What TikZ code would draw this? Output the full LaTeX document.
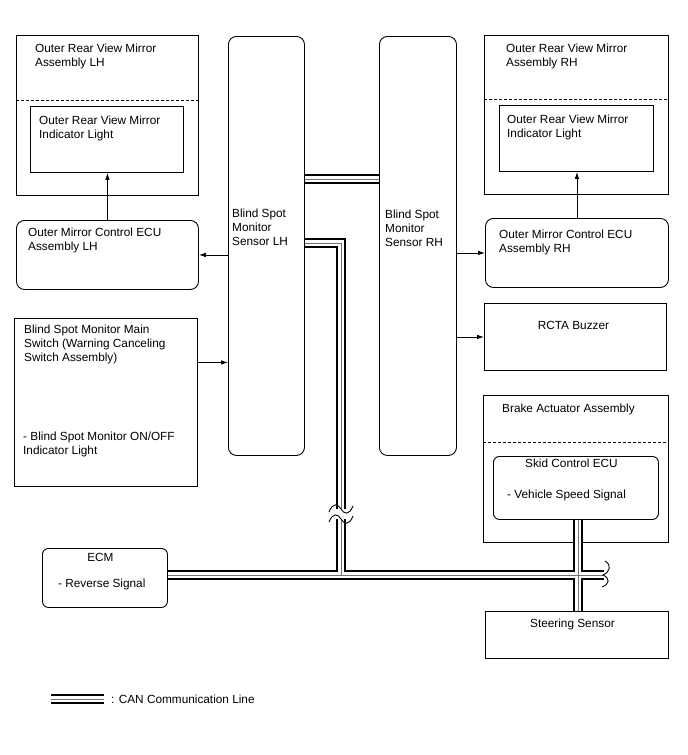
\documentclass[tikz,border=0pt]{standalone}
\usepackage{fontspec}
\setmainfont{Liberation Sans}
\usetikzlibrary{arrows.meta,positioning,calc}

\tikzset{
  blk/.style={draw, line width=0.9pt, anchor=north west, inner sep=0pt},
  rblk/.style={blk, rounded corners=8pt},
  lbl/.style={anchor=north west, align=left, inner sep=0pt},
  clbl/.style={anchor=north, align=center, inner sep=0pt},
  sep/.style={line width=0.9pt, dash pattern=on 3pt off 2pt},
  sig/.style={-{Latex[length=7pt,width=4.5pt]}, line width=0.8pt},
  canout/.style={line width=10pt, draw=black},
  canin/.style={line width=6pt, draw=white},
  cancore/.style={line width=0.8pt, draw=black!55},
  brk/.style={line width=0.9pt},
}

\begin{document}
\begin{tikzpicture}[x=1pt, y=-1pt, every node/.append style={font=\fontsize{11.8}{14}\selectfont}]
    \useasboundingbox (0,0) rectangle (688,755);

    % left column
    \node[blk, minimum width=182pt, minimum height=160pt] (mirL) at (16,35) {};
    \node[blk, minimum width=153pt, minimum height=66pt] (mirLin) at (30,106) {};
    \node[rblk, minimum width=182pt, minimum height=69pt] (ecuL) at (16,220) {};
    \node[blk, minimum width=183pt, minimum height=168pt] (switch) at (14,318) {};
    \node[rblk, rounded corners=6pt, minimum width=125pt, minimum height=59pt] (ecm) at (42,548) {};

    % sensors
    \node[rblk, minimum width=76pt, minimum height=419pt] (sensL) at (228,36) {};
    \node[rblk, minimum width=77pt, minimum height=419pt] (sensR) at (379,36) {};

    % right column
    \node[blk, minimum width=184pt, minimum height=159pt] (mirR) at (484,35) {};
    \node[blk, minimum width=154pt, minimum height=66pt] (mirRin) at (499,105) {};
    \node[rblk, minimum width=183pt, minimum height=69pt] (ecuR) at (485,218) {};
    \node[blk, minimum width=182pt, minimum height=67pt] (buzzer) at (484,303) {};
    \node[blk, minimum width=185pt, minimum height=147pt] (brake) at (483,395) {};
    \node[rblk, rounded corners=6pt, minimum width=165pt, minimum height=63pt] (skid) at (493,456) {};
    \node[blk, minimum width=183pt, minimum height=47pt] (steer) at (485,611) {};

    \draw[sep] ([yshift=-65pt]mirL.north west) -- ([yshift=-65pt]mirL.north east);
    \draw[sep] ([yshift=-64pt]mirR.north west) -- ([yshift=-64pt]mirR.north east);
    \draw[sep] ([yshift=-47pt]brake.north west) -- ([yshift=-47pt]brake.north east);

    % texts
    \node[lbl] (mirLt) at ([shift={(19,8.5)}]mirL.north west) {Outer Rear View Mirror\\Assembly LH};
    \node[lbl] (mirLint) at ([shift={(9,9.5)}]mirLin.north west) {Outer Rear View Mirror\\Indicator Light};
    \node[lbl] (ecuLt) at ([shift={(12,8)}]ecuL.north west) {Outer Mirror Control ECU\\Assembly LH};
    \node[lbl] (switcht) at ([shift={(10,6.5)}]switch.north west) {Blind Spot Monitor Main\\Switch (Warning Canceling\\Switch Assembly)};
    \node[lbl] (switchi) at ([shift={(9,113.5)}]switch.north west) {- Blind Spot Monitor ON/OFF\\Indicator Light};
    \node[clbl] (ecmt) at ([shift={(-4.5,4.7)}]ecm.north) {ECM};
    \node[lbl] (ecmi) at ([shift={(16,30.7)}]ecm.north west) {- Reverse Signal};
    \node[lbl] (sensLt) at ([shift={(4,172.5)}]sensL.north west) {Blind Spot\\Monitor\\Sensor LH};
    \node[lbl] (sensRt) at ([shift={(6,173.5)}]sensR.north west) {Blind Spot\\Monitor\\Sensor RH};
    \node[lbl] (mirRt) at ([shift={(22,8.5)}]mirR.north west) {Outer Rear View Mirror\\Assembly RH};
    \node[lbl] (mirRint) at ([shift={(8,9.5)}]mirRin.north west) {Outer Rear View Mirror\\Indicator Light};
    \node[lbl] (ecuRt) at ([shift={(14,11.5)}]ecuR.north west) {Outer Mirror Control ECU\\Assembly RH};
    \node[clbl] (buzzert) at ([shift={(-2,18)}]buzzer.north) {RCTA Buzzer};
    \node[lbl] (braket) at ([shift={(19,8.5)}]brake.north west) {Brake Actuator Assembly};
    \node[clbl] (skidt) at ([shift={(-4.5,3)}]skid.north) {Skid Control ECU};
    \node[lbl] (skidi) at ([shift={(14,33.7)}]skid.north west) {- Vehicle Speed Signal};
    \node[clbl] (steert) at ([shift={(-4.5,7.7)}]steer.north) {Steering Sensor};

    % signal lines
    \coordinate (swout) at ([yshift=40pt]switch.east);
    \draw[sig] (ecuL.north) -- (ecuL.north |- mirLin.south);
    \draw[sig] (sensL.west |- ecuL.east) -- (ecuL.east);
    \draw[sig] (swout) -- (swout -| sensL.west);
    \draw[sig] (ecuR.north) -- (ecuR.north |- mirRin.south);
    \draw[sig] (sensR.east |- ecuR.west) -- (ecuR.west);
    \draw[sig] (sensR.east |- buzzer.west) -- (buzzer.west);

    % CAN lines
    \coordinate (canTop) at (0,179);
    \coordinate (canMid) at (0,243);
    \coordinate (canX) at (341,0);
    \coordinate (busY) at (0,575);
    \coordinate (gapTop) at (341,509);
    \coordinate (gapBot) at (341,519);
    \coordinate (busEnd) at (604,575);
    \coordinate (brkX) at (578,0);
    \coordinate (legA) at (51,699);
    \coordinate (legB) at (104,699);
    \foreach \lay in {canout,canin,cancore} {
        \draw[\lay] (sensL.east |- canTop) -- (sensR.west |- canTop);
        \draw[\lay] (sensL.east |- canMid) -| (gapTop);
        \draw[\lay] (gapBot) -- (canX |- busY);
        \draw[\lay] (ecm.east |- busY) -- (busEnd);
        \draw[\lay] (brkX |- skid.south) -- (brkX |- steer.north);
        \draw[\lay] (legA) -- (legB);
    }

    % breaks
    \draw[brk] (329,512) .. controls (333,502) and (338,504) .. (341,509) .. controls (344,514) and (349,516) .. (353,506);
    \draw[brk] (329,522) .. controls (333,512) and (338,514) .. (341,519) .. controls (344,524) and (349,526) .. (353,516);
    \draw[brk] (605,561) .. controls (612,565) and (610,572) .. (603,575) .. controls (610,578) and (610,584) .. (602,587);

    \node[anchor=west, inner sep=0pt] (legt) at ([xshift=7pt]legB) {: CAN Communication Line};
\end{tikzpicture}
\end{document}
